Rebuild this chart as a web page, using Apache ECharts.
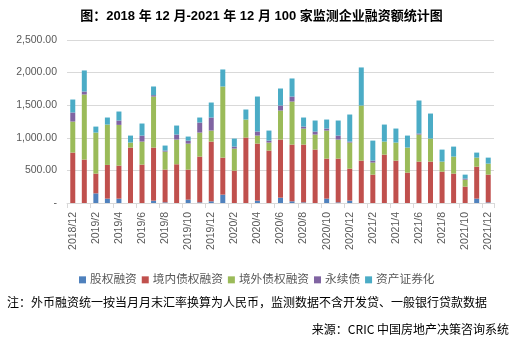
<!DOCTYPE html>
<html>
<head>
<meta charset="utf-8">
<script src="https://cdn.jsdelivr.net/npm/echarts@6/dist/echarts.min.js"></script>
<style>
  html, body { margin: 0; padding: 0; background: #fff; }
  #chart { width: 523px; height: 345px; }
</style>
</head>
<body>
<div id="chart"></div>
<script>
// Months, 2018/12 through 2021/12
const months = [
  '2018/12', '2019/1', '2019/2', '2019/3', '2019/4', '2019/5', '2019/6', '2019/7', '2019/8', '2019/9', '2019/10', '2019/11', '2019/12',
  '2020/1', '2020/2', '2020/3', '2020/4', '2020/5', '2020/6', '2020/7', '2020/8', '2020/9', '2020/10', '2020/11', '2020/12',
  '2021/1', '2021/2', '2021/3', '2021/4', '2021/5', '2021/6', '2021/7', '2021/8', '2021/9', '2021/10', '2021/11', '2021/12'
];

// Financing amounts by channel (亿元)
const equity = [0, 0, 148, 67, 67, 0, 0, 36, 10, 0, 51, 10, 26, 128, 0, 0, 36, 0, 82, 26, 10, 0, 67, 10, 36, 0, 0, 0, 0, 0, 0, 0, 0, 0, 0, 67, 10];
const domesticDebt = [773, 666, 303, 517, 506, 850, 589, 814, 502, 594, 461, 702, 916, 568, 497, 1004, 875, 804, 891, 870, 886, 819, 614, 671, 491, 650, 435, 742, 650, 466, 635, 635, 481, 451, 251, 491, 425];
const overseasDebt = [476, 998, 629, 619, 625, 77, 353, 783, 276, 379, 399, 368, 169, 1091, 338, 276, 123, 123, 445, 660, 246, 231, 430, 292, 400, 845, 185, 200, 277, 384, 415, 353, 154, 261, 107, 138, 169];
const perpetual = [139, 46, 0, 0, 67, 0, 92, 21, 16, 77, 46, 154, 200, 0, 30, 0, 62, 30, 77, 77, 30, 46, 31, 61, 15, 0, 30, 0, 0, 0, 15, 0, 0, 0, 16, 0, 0];
const securitization = [199, 323, 92, 108, 138, 107, 185, 133, 77, 138, 62, 77, 230, 261, 123, 154, 537, 154, 261, 277, 139, 169, 138, 231, 415, 584, 307, 261, 215, 184, 507, 384, 184, 153, 61, 77, 92];

const seriesNames = ['股权融资', '境内债权融资', '境外债权融资', '永续债', '资产证券化'];
const seriesData = [equity, domesticDebt, overseasDebt, perpetual, securitization];
const colors = ['#4F81BD', '#C0504D', '#9BBB59', '#8064A2', '#4BACC6'];

const titleText = '图：2018 年 12 月-2021 年 12 月 100 家监测企业融资额统计图';
const noteText = '注：外币融资统一按当月月末汇率换算为人民币，监测数据不含开发贷、一般银行贷款数据';
const sourceText = '来源：CRIC 中国房地产决策咨询系统';

const cjk = "'Liberation Sans', 'Noto Sans CJK SC', sans-serif";

function fmtAxis(v) {
  if (v === 0) return '-';
  return v.toLocaleString('en-US', { minimumFractionDigits: 2, maximumFractionDigits: 2 });
}

const chart = echarts.init(document.getElementById('chart'), null, { renderer: 'canvas' });

chart.setOption({
  animation: false,
  color: colors,
  title: {
    text: titleText,
    left: 'center',
    top: 5,
    textStyle: { fontFamily: cjk, fontSize: 13, fontWeight: 'bold', color: '#000' }
  },
  legend: {
    data: seriesNames,
    left: 74,
    top: 269,
    icon: 'rect',
    itemWidth: 7,
    itemHeight: 7,
    itemGap: 5,
    textStyle: { fontFamily: cjk, fontSize: 11.7, color: '#595959', padding: [0, 0, 0, -1] }
  },
  grid: { left: 67, right: 29, top: 40, bottom: 142, containLabel: false },
  xAxis: {
    type: 'category',
    data: months,
    boundaryGap: true,
    axisLine: { lineStyle: { color: '#D9D9D9', width: 1 } },
    axisTick: { show: true, interval: 1, length: 5, lineStyle: { color: '#D9D9D9' } },
    axisLabel: {
      interval: 1,
      rotate: 90,
      margin: 9,
      fontFamily: cjk,
      fontSize: 10.5,
      color: '#595959'
    }
  },
  yAxis: {
    type: 'value',
    min: 0,
    max: 2500,
    interval: 500,
    axisLine: { show: false },
    axisTick: { show: false },
    splitLine: { lineStyle: { color: '#D9D9D9', width: 1 } },
    axisLabel: {
      formatter: fmtAxis,
      margin: 10,
      fontFamily: cjk,
      fontSize: 10.5,
      color: '#595959'
    }
  },
  series: seriesNames.map((name, i) => ({
    name: name,
    type: 'bar',
    stack: 'total',
    barWidth: 5,
    data: seriesData[i],
    itemStyle: { color: colors[i] }
  })),
  graphic: [
    {
      type: 'text',
      left: 7,
      top: 296,
      style: { text: noteText, font: "12px 'Noto Sans CJK SC', sans-serif", fill: '#000' }
    },
    {
      type: 'text',
      right: 14,
      top: 323,
      style: { text: sourceText, font: "12px 'Noto Sans CJK SC', sans-serif", fill: '#000' }
    }
  ]
});
</script>
</body>
</html>
